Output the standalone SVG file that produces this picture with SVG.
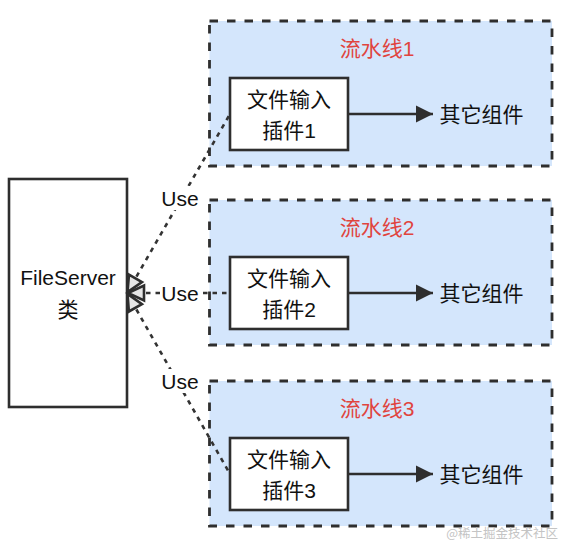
<svg xmlns="http://www.w3.org/2000/svg" width="564" height="542" viewBox="0 0 564 542">
  <defs>
    <style>
      .t { font-family: "Liberation Sans", "Noto Sans CJK SC", sans-serif; font-size: 21px; fill: #111; text-anchor: middle; dominant-baseline: central; }
      .title { fill: #e0443e; }
      .box { fill: #fff; stroke: #2e2e2e; stroke-width: 2.6; }
      .pipe { fill: #d4e6fc; stroke: #2e2e2e; stroke-width: 2.8; stroke-dasharray: 8.5 9; }
      .use { fill: none; stroke: #333; stroke-width: 2.6; stroke-dasharray: 4.5 5; }
      .flow { fill: none; stroke: #2e2e2e; stroke-width: 2.6; }
      .lblbg { fill: #fff; }
    </style>
    <marker id="hollow" viewBox="-3 -11 23 22" markerWidth="23" markerHeight="22" refX="0" refY="0" markerUnits="userSpaceOnUse" orient="auto">
      <path d="M1,0 L17,-7.5 L17,7.5 Z" fill="#e6e6e6" stroke="#2e2e2e" stroke-width="2.6" stroke-linejoin="miter"/>
    </marker>
    <marker id="solid" viewBox="0 -10 18 20" markerWidth="18" markerHeight="20" refX="17" refY="0" markerUnits="userSpaceOnUse" orient="auto">
      <path d="M0,-8.5 L17,0 L0,8.5 Z" fill="#2e2e2e"/>
    </marker>
  </defs>

  <g id="pipeline1">
    <rect class="pipe" x="209.5" y="21" width="342.5" height="145"/>
    <text class="t title" x="377" y="48.5">流水线1</text>
  </g>
  <g id="pipeline2">
    <rect class="pipe" x="209.5" y="200" width="342.5" height="145"/>
    <text class="t title" x="377" y="227.5">流水线2</text>
  </g>
  <g id="pipeline3">
    <rect class="pipe" x="209.5" y="381" width="342.5" height="145"/>
    <text class="t title" x="377" y="408.5">流水线3</text>
  </g>

  <g id="fileserver">
    <rect class="box" x="9" y="179" width="118" height="228"/>
    <text class="t" x="68" y="277">FileServer</text>
    <text class="t" x="68" y="309">类</text>
  </g>

  <g id="plugin1">
    <rect class="box" x="230" y="78" width="118" height="72"/>
    <text class="t" x="289" y="99">文件输入</text>
    <text class="t" x="289" y="130">插件1</text>
  </g>
  <g id="plugin2">
    <rect class="box" x="230" y="257" width="118" height="72"/>
    <text class="t" x="289" y="278">文件输入</text>
    <text class="t" x="289" y="309">插件2</text>
  </g>
  <g id="plugin3">
    <rect class="box" x="230" y="438" width="118" height="72"/>
    <text class="t" x="289" y="459">文件输入</text>
    <text class="t" x="289" y="490">插件3</text>
  </g>

  <g id="other1"><text class="t" x="481.5" y="114">其它组件</text></g>
  <g id="other2"><text class="t" x="481.5" y="293">其它组件</text></g>
  <g id="other3"><text class="t" x="481.5" y="474">其它组件</text></g>

  <g id="connectors">
    <path class="use" d="M127,293 L230,114" marker-start="url(#hollow)"/>
    <path class="use" d="M127,293 L230,293" marker-start="url(#hollow)"/>
    <path class="use" d="M127,293 L230,474" marker-start="url(#hollow)"/>
    <rect class="lblbg" x="160" y="186" width="40" height="24"/>
    <text class="t" x="180" y="198">Use</text>
    <rect class="lblbg" x="160" y="281" width="40" height="24"/>
    <text class="t" x="180" y="293">Use</text>
    <rect class="lblbg" x="160" y="369" width="40" height="24"/>
    <text class="t" x="180" y="381">Use</text>
    <path class="flow" d="M348,114 L433,114" marker-end="url(#solid)"/>
    <path class="flow" d="M348,293 L433,293" marker-end="url(#solid)"/>
    <path class="flow" d="M348,474 L433,474" marker-end="url(#solid)"/>
  </g>

  <text x="558" y="532" font-family="'Noto Sans CJK SC', sans-serif" font-size="12.5" fill="#c4c4c4" text-anchor="end" dominant-baseline="central">@稀土掘金技术社区</text>
</svg>
